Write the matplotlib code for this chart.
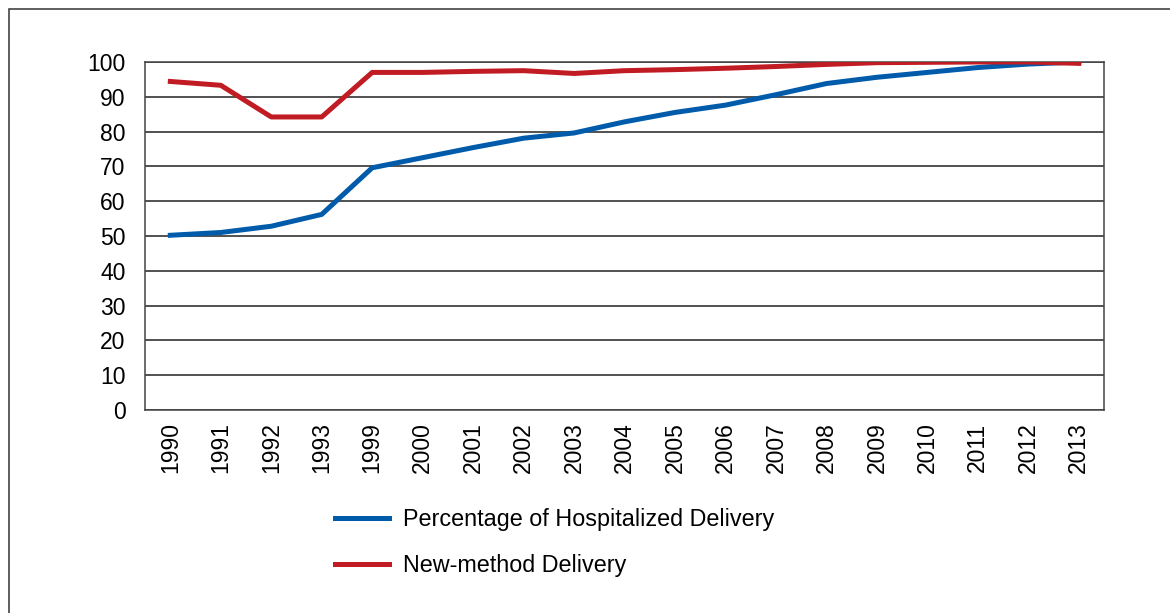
import matplotlib
matplotlib.use('Agg')
from matplotlib import pyplot as plt
from matplotlib.patches import Rectangle

plt.rcParams['font.family'] = ['Liberation Sans', 'DejaVu Sans']

years = ['1990', '1991', '1992', '1993', '1999', '2000', '2001', '2002', '2003', '2004',
         '2005', '2006', '2007', '2008', '2009', '2010', '2011', '2012', '2013']
hospitalized = [50.2, 51.0, 52.8, 56.2, 69.6, 72.5, 75.4, 78.1, 79.6, 82.8,
                85.5, 87.6, 90.6, 93.8, 95.6, 97.0, 98.4, 99.4, 100.0]
new_method = [94.4, 93.3, 84.2, 84.2, 97.0, 97.0, 97.3, 97.5, 96.7, 97.5,
              97.8, 98.2, 98.7, 99.3, 99.8, 99.9, 100.0, 100.0, 99.6]

blue = '#005bab'
red = '#c11b24'

fig = plt.figure(figsize=(11.7, 6.13), dpi=100)
ax = fig.add_axes([0.124, 0.3312, 0.8196, 0.5677])

x = range(len(years))
h1, = ax.plot(x, hospitalized, color=blue, lw=3.6, solid_joinstyle='round',
              label='Percentage of Hospitalized Delivery', zorder=3)
h2, = ax.plot(x, new_method, color=red, lw=3.6, solid_joinstyle='round',
              label='New-method Delivery', zorder=3)

ax.set_xlim(-0.5, len(years) - 0.5)
ax.set_ylim(0, 100)
ax.set_yticks(range(0, 101, 10))
ax.set_xticks(list(x))
ax.set_xticklabels(years, rotation=90)
ax.tick_params(axis='both', length=0, labelsize=16.5)
ax.tick_params(axis='y', pad=14)
ax.tick_params(axis='x', pad=9)
ax.yaxis.grid(True, color='#222222', lw=1.1)
ax.set_axisbelow(True)
for s in ax.spines.values():
    s.set_color('#444444')
    s.set_linewidth(1.1)

fig.legend(handles=[h1, h2], loc='upper left', bbox_to_anchor=(0.2785, 0.187),
           frameon=False, fontsize=16.8, handlelength=2.3, handletextpad=0.6,
           labelspacing=1.0, borderaxespad=0)

# outer frame of the figure
fig.patches.append(Rectangle((9 / 1170, -0.2), 1.2, 0.2 + 1 - 9 / 613,
                             transform=fig.transFigure, fill=False,
                             edgecolor='#333333', lw=1.1))

fig.savefig('out.png', dpi=100)
